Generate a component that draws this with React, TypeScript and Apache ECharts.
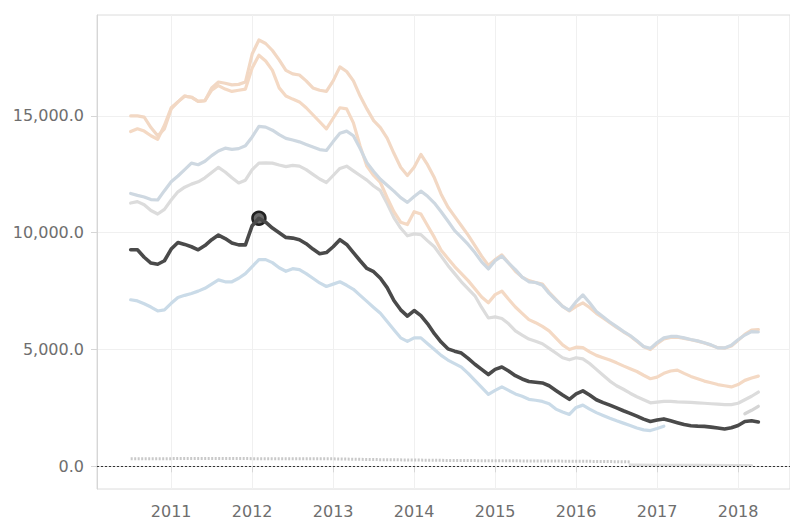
import React, { useEffect, useRef } from "react";
import * as echarts from "echarts";

// Monthly categories (Jul 2010 – Apr 2018)
const months: string[] = [
  "2010-07","2010-08","2010-09","2010-10","2010-11","2010-12",
  "2011-01","2011-02","2011-03","2011-04","2011-05","2011-06","2011-07","2011-08","2011-09","2011-10","2011-11","2011-12",
  "2012-01","2012-02","2012-03","2012-04","2012-05","2012-06","2012-07","2012-08","2012-09","2012-10","2012-11","2012-12",
  "2013-01","2013-02","2013-03","2013-04","2013-05","2013-06","2013-07","2013-08","2013-09","2013-10","2013-11","2013-12",
  "2014-01","2014-02","2014-03","2014-04","2014-05","2014-06","2014-07","2014-08","2014-09","2014-10","2014-11","2014-12",
  "2015-01","2015-02","2015-03","2015-04","2015-05","2015-06","2015-07","2015-08","2015-09","2015-10","2015-11","2015-12",
  "2016-01","2016-02","2016-03","2016-04","2016-05","2016-06","2016-07","2016-08","2016-09","2016-10","2016-11","2016-12",
  "2017-01","2017-02","2017-03","2017-04","2017-05","2017-06","2017-07","2017-08","2017-09","2017-10","2017-11","2017-12",
  "2018-01","2018-02","2018-03","2018-04",
];

const yearTicks: number[] = [2011, 2012, 2013, 2014, 2015, 2016, 2017, 2018];
const valueTicks: number[] = [0, 5000, 10000, 15000];

// Highlighted series (dark)
const darkValues: number[] = [
  9270, 9270, 8950, 8700, 8650, 8800,
  9300, 9580, 9500, 9400, 9270, 9450, 9700, 9900, 9750, 9560, 9480, 9480,
  10300, 10620, 10450, 10200, 10000, 9800, 9770, 9700, 9530, 9300, 9100, 9150,
  9400, 9700, 9500, 9150, 8800, 8470, 8330, 8050, 7650, 7100, 6700, 6430,
  6670, 6450, 6100, 5680, 5320, 5030, 4930, 4850, 4620, 4370, 4150, 3930,
  4150, 4250, 4080, 3880, 3740, 3630, 3600, 3570, 3450, 3250, 3050, 2870,
  3100, 3230, 3050, 2850, 2730, 2620, 2500, 2380, 2270, 2150, 2020, 1920,
  1980, 2030, 1950, 1870, 1790, 1740, 1720, 1710, 1680, 1640, 1600, 1650,
  1750, 1920, 1950, 1900,
];

// Faded series
const blueLowValues: number[] = [
  7130, 7080, 6960, 6820, 6650, 6700,
  6980, 7230, 7320, 7400, 7500, 7620, 7800, 7980, 7900, 7900, 8050, 8250,
  8550, 8850, 8850, 8720, 8500, 8350, 8460, 8420, 8250, 8050, 7850, 7700,
  7800, 7900, 7750, 7580, 7320, 7060, 6800, 6550, 6200, 5850, 5500, 5350,
  5500, 5500, 5250, 5000, 4750, 4550, 4400, 4250, 3980, 3680, 3380, 3080,
  3250, 3400, 3250, 3100, 3000, 2870, 2830, 2780, 2680, 2450, 2330, 2220,
  2520, 2620, 2450, 2300, 2180, 2060, 1950, 1850, 1750, 1640, 1560, 1530,
  1620, 1720,
];

const grayValues: number[] = [
  11270, 11330, 11200, 10950, 10800, 11000,
  11400, 11750, 11950, 12080, 12180, 12350, 12580, 12800, 12600, 12350, 12130, 12250,
  12700, 12980, 12990, 12980, 12900, 12830, 12880, 12850, 12700, 12500, 12300, 12150,
  12450, 12750, 12850, 12650, 12450, 12250, 12000, 11800, 11250, 10650, 10200, 9870,
  9950, 9920, 9650, 9400, 9000, 8600, 8250, 7900, 7600, 7300, 6800, 6350,
  6400, 6330, 6100, 5800, 5620, 5450, 5350, 5250, 5050, 4850, 4650, 4560,
  4650, 4600, 4400, 4150, 3900, 3650, 3450, 3300, 3130, 2980, 2850, 2720,
  2750, 2780, 2780, 2760, 2750, 2740, 2720, 2700, 2680, 2660, 2640, 2640,
  2700, 2850, 3000, 3180,
];

const blueHighValues: number[] = [
  11680, 11600, 11530, 11420, 11400, 11800,
  12180, 12430, 12700, 12980, 12910, 13060, 13300, 13500, 13620, 13570, 13600, 13720,
  14100, 14550, 14520, 14390, 14200, 14040, 13970, 13890, 13780, 13670, 13560, 13520,
  13900, 14260, 14350, 14150, 13600, 13000, 12620, 12290, 12030, 11780, 11500, 11300,
  11550, 11780, 11560, 11270, 10900, 10500, 10090, 9800, 9500, 9150, 8750, 8450,
  8800, 9000, 8700, 8420, 8100, 7900, 7870, 7750, 7400, 7120, 6850, 6680,
  7050, 7340, 7000, 6630, 6400, 6180, 5980, 5780, 5600, 5380, 5130, 5050,
  5300, 5500, 5560, 5560, 5500, 5430, 5370, 5290, 5200, 5070, 5070, 5180,
  5420, 5620, 5770, 5750,
];

const orangeLowValues: number[] = [
  14330, 14450, 14350, 14150, 14000, 14600,
  15350, 15600, 15850, 15800, 15620, 15650, 16100, 16300, 16150, 16050, 16100, 16150,
  17050, 17600, 17350, 16950, 16200, 15850, 15720, 15600, 15350, 15050, 14750, 14450,
  14900, 15350, 15300, 14700, 13700, 12850, 12450, 12150, 11500, 10900, 10450, 10350,
  10900, 10800, 10300, 9800, 9250, 8900, 8550, 8250, 7950, 7600, 7250, 7000,
  7350, 7500, 7150, 6820, 6550, 6280, 6150, 5990, 5800, 5500, 5200, 5000,
  5100, 5080, 4900, 4750, 4650, 4550, 4430, 4300, 4180, 4060, 3900, 3750,
  3820, 3980, 4080, 4120, 3980, 3850, 3750, 3650, 3580, 3500, 3450, 3400,
  3500, 3680, 3780, 3860,
];

const orangeHighValues: number[] = [
  15000, 15000, 14950, 14500, 14150, 14450,
  15300, 15600, 15850, 15800, 15620, 15650, 16200, 16450, 16400, 16330, 16350, 16450,
  17650, 18250, 18100, 17800, 17400, 16950, 16800, 16750, 16500, 16200, 16100, 16050,
  16500, 17100, 16900, 16500, 15850, 15300, 14800, 14500, 14050, 13400, 12800, 12450,
  12800, 13350, 12900, 12350, 11650, 11100, 10700, 10300, 9900, 9450, 9000, 8600,
  8850, 9050, 8700, 8350, 8100, 7950, 7870, 7800, 7450, 7150, 6850, 6650,
  6850, 7000, 6800, 6550, 6350, 6150, 5950, 5760, 5580, 5350, 5120, 5000,
  5250, 5450, 5520, 5530, 5480, 5420, 5360, 5280, 5180, 5080, 5060, 5150,
  5400, 5650, 5830, 5850,
];

const shortGrayMonths: string[] = ["2018-02", "2018-03", "2018-04"];
const shortGrayValues: number[] = [2250, 2400, 2570];

const nearZeroMonths: string[] = [
  "2010-07","2011-01","2011-07","2012-01","2012-07","2013-01","2013-07",
  "2014-01","2014-07","2015-01","2015-07","2016-01","2016-07","2016-09",
];
const nearZeroValues: number[] = [320, 330, 340, 330, 320, 320, 290, 270, 250, 240, 230, 220, 200, 190];

const flatZeroMonths: string[] = ["2016-09", "2017-01", "2017-07", "2018-01", "2018-03"];
const flatZeroValues: number[] = [60, 50, 50, 40, 40];

const highlightMonth = "2012-02";

const toX = (s: string): number => {
  const [y, m] = s.split("-");
  return parseInt(y, 10) + (parseInt(m, 10) - 1) / 12;
};

const pairs = (ms: string[], vs: number[]) => vs.map((v, i) => [toX(ms[i]), v]);

const fmtValue = (v: number) =>
  v.toLocaleString("en-US", { minimumFractionDigits: 1, maximumFractionDigits: 1 });

export default function App() {
  const ref = useRef<HTMLDivElement>(null);

  useEffect(() => {
    if (!ref.current) return;
    const chart = echarts.init(ref.current, undefined, { renderer: "svg" });

    const fadedLine = (name: string, ms: string[], vs: number[], color: string, extra: any = {}) => ({
      name,
      type: "line",
      data: pairs(ms, vs),
      symbol: "none",
      smooth: false,
      silent: true,
      lineStyle: { color, width: 3.2, cap: "round", join: "round", ...extra },
      z: 2,
    });

    const hiIdx = months.indexOf(highlightMonth);

    chart.setOption({
      animation: false,
      backgroundColor: "#ffffff",
      grid: {
        left: 97,
        top: 15,
        right: -6,
        bottom: 31,
        show: true,
        borderColor: "#dcdcdc",
        borderWidth: 1,
        backgroundColor: "transparent",
      },
      xAxis: {
        type: "value",
        min: 2010.084,
        max: 2018.641,
        axisLine: { show: true, lineStyle: { color: "#d6d6d6", width: 1 } },
        axisTick: { show: true, length: 6, lineStyle: { color: "#d6d6d6" }, customValues: yearTicks },
        axisLabel: {
          customValues: yearTicks,
          formatter: (v: number) => String(Math.round(v)),
          color: "#6e6e6e",
          fontSize: 16,
          fontFamily: "DejaVu Sans",
          margin: 14,
        },
        splitLine: { show: true, lineStyle: { color: "#f0f0f0", width: 1 } },
      },
      yAxis: {
        type: "value",
        min: -970,
        max: 19320,
        axisLine: { show: true, lineStyle: { color: "#d6d6d6", width: 1 } },
        axisTick: { show: true, length: 6, lineStyle: { color: "#d6d6d6" }, customValues: valueTicks },
        axisLabel: {
          customValues: valueTicks,
          formatter: (v: number) => fmtValue(v),
          color: "#6e6e6e",
          fontSize: 16,
          fontFamily: "DejaVu Sans",
          margin: 13,
        },
        splitLine: { show: true, lineStyle: { color: "#f0f0f0", width: 1 } },
      },
      series: [
        fadedLine("Near zero", nearZeroMonths, nearZeroValues, "#c9c9c9", { width: 3, type: [2, 1.5], cap: "butt" }),
        fadedLine("Near zero 2", flatZeroMonths, flatZeroValues, "#dcdcdc", { width: 3 }),
        fadedLine("Blue low", months, blueLowValues, "#cadbe8"),
        fadedLine("Gray", months, grayValues, "#dcdcdc"),
        fadedLine("Gray short", shortGrayMonths, shortGrayValues, "#d5d5d5"),
        fadedLine("Orange low", months, orangeLowValues, "#f4d9c4"),
        fadedLine("Orange high", months, orangeHighValues, "#f2d8c4"),
        fadedLine("Blue high", months, blueHighValues, "#ced8e1"),
        {
          name: "Selected",
          type: "line",
          data: pairs(months, darkValues),
          symbol: "none",
          silent: true,
          lineStyle: { color: "#4a4a4a", width: 3.6, cap: "round", join: "round" },
          z: 5,
          markPoint: {
            silent: true,
            symbol: "circle",
            symbolSize: 13,
            itemStyle: { color: "#6a6a6a", borderColor: "#222222", borderWidth: 2.5 },
            label: { show: false },
            data: [{ coord: [toX(highlightMonth), darkValues[hiIdx]] }],
          },
          markLine: {
            silent: true,
            symbol: ["none", "none"],
            label: { show: false },
            lineStyle: { color: "#333333", width: 1, type: [2, 2] },
            data: [{ yAxis: 0 }],
          },
        },
      ],
    });

    return () => chart.dispose();
  }, []);

  return (
    <div
      ref={ref}
      style={{ position: "fixed", left: 0, top: 0, width: 790, height: 520, background: "#ffffff" }}
    />
  );
}
